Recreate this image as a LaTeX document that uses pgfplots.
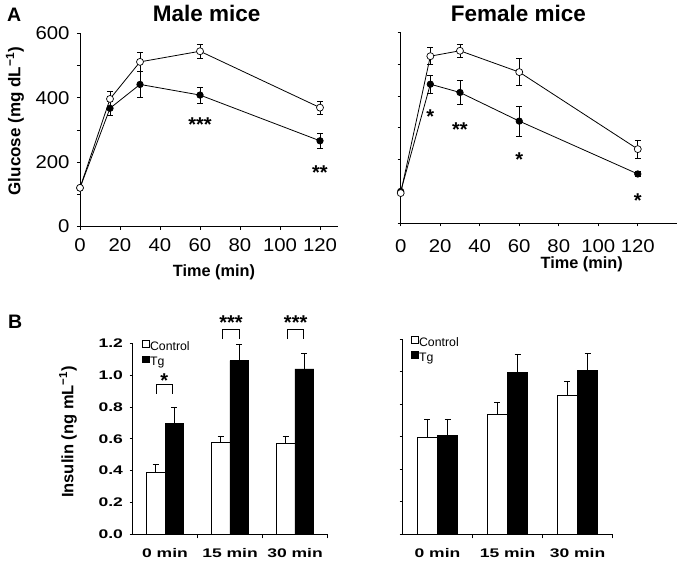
\documentclass[border=0pt]{standalone}
\usepackage{fontspec}
\setmainfont{Liberation Sans}
\newfontfamily\topticks{Liberation Sans}[FakeStretch=1.1]
\newfontfamily\botticks{Liberation Sans}[FakeStretch=1.4]
\usepackage{pgfplots}
\pgfplotsset{compat=1.18}
\tikzset{star/.style={font=\bfseries\fontsize{20}{20}\selectfont, anchor=north, inner sep=0pt}}
\pgfplotsset{
  common/.style={
    scale only axis, clip=false,
    axis x line*=bottom, axis y line*=left,
    axis line style={-, line width=0.8pt},
    tick style={black, line width=0.7pt},
    major tick length=3pt, minor tick length=4pt,
    tick align=outside,
    /pgf/number format/assume math mode=true,
  },
  glu/.style={common,
    xmin=0, ymin=0, ymax=600,
    xtick={0,20,...,120}, ytick={0,100,...,600},
    ticklabel style={font=\topticks\fontsize{18.5}{20}\selectfont},
    yticklabel style={xshift=-4pt},
    xlabel style={font=\bfseries\fontsize{16.3}{18}\selectfont, anchor=base},
    ylabel style={font=\bfseries\fontsize{17}{19}\selectfont, anchor=center},
  },
  ctl/.style={black, line width=0.8pt, mark=*, mark size=3.5pt,
    mark options={fill=white, draw=black, line width=0.7pt},
    error bars/.cd, y dir=both, y explicit,
    error bar style={line width=0.7pt},
    error mark options={rotate=90, mark size=3pt, line width=0.7pt}},
  tg/.style={black, line width=0.8pt, mark=*, mark size=3.2pt,
    mark options={fill=black, draw=black},
    error bars/.cd, y dir=both, y explicit,
    error bar style={line width=0.7pt},
    error mark options={rotate=90, mark size=3pt, line width=0.7pt}},
  ins/.style={common,
    xmin=-0.5, xmax=2.5, ymin=0, ymax=1.2,
    xtick={0,1,2}, xticklabels={0 min,15 min,30 min},
    major x tick style={draw=none},
    minor xtick={0.5,1.5,2.5},
    ytick={0,0.2,0.4,0.6,0.8,1.0,1.2},
    ticklabel style={font=\botticks\bfseries\fontsize{12.5}{14}\selectfont},
    xticklabel style={yshift=-8pt},
    yticklabel style={xshift=-3pt},
    legend cell align=left,
    legend image code/.code={\draw[##1, line width=0.7pt] (0pt,0pt) rectangle (7pt,6.8pt);},
    legend style={anchor=north west, draw=none, fill=none, inner sep=0pt,
      font=\fontsize{12.3}{14}\selectfont, row sep=2pt,
      nodes={inner sep=0.5pt, text height=8.6pt, text depth=2.4pt}},
  },
  barc/.style={ybar, bar width=0.29, bar shift=0pt, fill=white, draw=black, line width=0.8pt,
    error bars/.cd, y dir=plus, y explicit,
    error bar style={line width=0.8pt, black},
    error mark options={rotate=90, mark size=3pt, line width=0.8pt, black}},
  bart/.style={ybar, bar width=0.29, bar shift=0pt, fill=black, draw=black, line width=0.8pt,
    error bars/.cd, y dir=plus, y explicit,
    error bar style={line width=0.8pt, black},
    error mark options={rotate=90, mark size=3pt, line width=0.8pt, black}},
}
\begin{document}
\begin{tikzpicture}
\path[use as bounding box] (0pt,0pt) rectangle (681pt,-567pt);

% panel letters and titles
\node[anchor=base west, inner sep=0pt, font=\bfseries\fontsize{19.5}{20}\selectfont] at (7pt,-22pt) {A};
\node[anchor=base west, inner sep=0pt, font=\bfseries\fontsize{19.5}{20}\selectfont] at (8pt,-328.3pt) {B};
\node[anchor=base, inner sep=0pt, font=\bfseries\fontsize{22.5}{24}\selectfont] at (206.7pt,-21.7pt) {Male mice};
\node[anchor=base, inner sep=0pt, font=\bfseries\fontsize{22.5}{24}\selectfont] at (518.3pt,-21.7pt) {Female mice};

% ---------------- Male glucose ----------------
\begin{axis}[glu,
  at={(80pt,-226.5pt)}, anchor=south west,
  width=258pt, height=193.3pt, xmax=129,
  xticklabel style={yshift=-6pt},
  yticklabels={0,,200,,400,,600},
  xlabel={Time (min)}, xlabel style={at={(axis cs:67,-155.7)}},
  ylabel={Glucose (mg dL\textsuperscript{−1})}, ylabel style={at={(axis cs:-32.5,327)}},
]
\addplot[tg] table[x=t, y=g, y error=e] {
t g e
0 120 0
15 367 23
30 441 40
60 408 25
120 266 22
};
\addplot[ctl] table[x=t, y=g, y error=e] {
t g e
0 120 0
15 396 23
30 511 29
60 544 21
120 369 21
};
\node[star] at (axis cs:60,337) {***};
\node[star] at (axis cs:120,190) {**};
\end{axis}

% ---------------- Female glucose ----------------
\begin{axis}[glu,
  at={(400.7pt,-223.3pt)}, anchor=south west,
  width=276pt, height=191pt, xmax=139.7,
  xticklabel style={yshift=-10pt},
  yticklabels={},
  xlabel={Time (min)}, xlabel style={at={(axis cs:91.6,-141.4)}},
]
\addplot[tg] table[x=t, y=g, y error=e] {
t g e
0 100 0
15 437 29
30 411 38
60 321 47
120 155 8
};
\addplot[ctl] table[x=t, y=g, y error=e] {
t g e
0 95 0
15 525 27
30 542 20
60 475 43
120 233 28
};
\node[star] at (axis cs:15,357) {*};
\node[star] at (axis cs:30,318) {**};
\node[star] at (axis cs:60,223) {*};
\node[star] at (axis cs:120,93) {*};
\end{axis}

% ---------------- Male insulin ----------------
\begin{axis}[ins,
  at={(132.5pt,-534.3pt)}, anchor=south west,
  width=195pt, height=191pt,
  yticklabels={0.0,0.2,0.4,0.6,0.8,1.0,1.2},
  ylabel={Insulin (ng mL\textsuperscript{−1})},
  ylabel style={at={(axis cs:-1.492,0.643)}, anchor=center, font=\bfseries\fontsize{16.5}{18}\selectfont},
  legend style={at={(rel axis cs:0.047,1.016)}},
]
\addplot[barc] table[x=x, y=y, y error=e] {
x y e
-0.145 0.390 0.050
0.855 0.578 0.038
1.855 0.574 0.044
};
\addlegendentry{Control}
\addplot[bart] table[x=x, y=y, y error=e] {
x y e
0.145 0.695 0.105
1.145 1.091 0.105
2.145 1.039 0.100
};
\addlegendentry{Tg}
\draw[line width=0.8pt] (axis cs:-0.135,0.882) -- (axis cs:-0.135,0.942) -- (axis cs:0.12,0.942) -- (axis cs:0.12,0.882);
\draw[line width=0.8pt] (axis cs:0.89,1.227) -- (axis cs:0.89,1.288) -- (axis cs:1.14,1.288) -- (axis cs:1.14,1.227);
\draw[line width=0.8pt] (axis cs:1.885,1.227) -- (axis cs:1.885,1.288) -- (axis cs:2.13,1.288) -- (axis cs:2.13,1.227);
\node[star] at (axis cs:-0.01,1.01) {*};
\node[star] at (axis cs:1.015,1.377) {***};
\node[star] at (axis cs:2.01,1.377) {***};
\end{axis}

% ---------------- Female insulin ----------------
\begin{axis}[ins,
  at={(402.5pt,-534.3pt)}, anchor=south west,
  width=210pt, height=195pt,
  yticklabels={},
  legend style={at={(rel axis cs:0.039,1.017)}},
]
\addplot[barc] table[x=x, y=y, y error=e] {
x y e
-0.145 0.597 0.113
0.855 0.740 0.072
1.855 0.853 0.089
};
\addlegendentry{Control}
\addplot[bart] table[x=x, y=y, y error=e] {
x y e
0.145 0.607 0.103
1.145 0.997 0.113
2.145 1.007 0.107
};
\addlegendentry{Tg}
\end{axis}
\end{tikzpicture}
\end{document}
